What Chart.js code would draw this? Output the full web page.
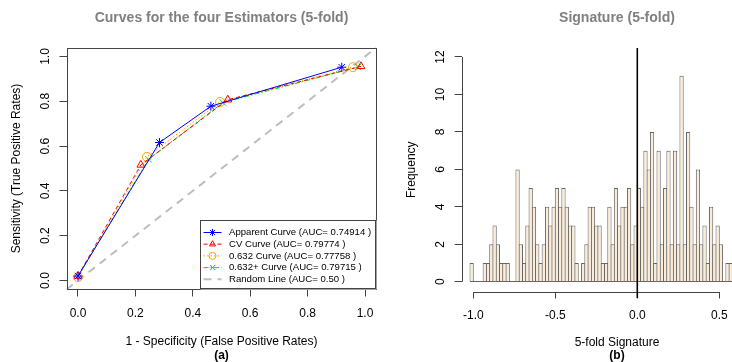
<!DOCTYPE html>
<html>
<head>
<meta charset="utf-8">
<script src="https://cdn.jsdelivr.net/npm/chart.js"></script>
<style>
  html, body { margin: 0; padding: 0; width: 732px; height: 362px; overflow: hidden; background: #fff; }
  #roc { position: absolute; left: 0; top: 0; }
  #hist { position: absolute; left: 390px; top: 0; }
</style>
</head>
<body>
<canvas id="roc" width="443" height="362"></canvas>
<canvas id="hist" width="454" height="362"></canvas>
<script>
// ROC - the four estimators (5-fold)
const fprApparent = [0, 0.284, 0.463, 0.919]
const tprApparent = [0.02, 0.616, 0.778, 0.952]
const fprCV = [0, 0.219, 0.522, 0.986]
const tprCV = [0.02, 0.516, 0.807, 0.956]
const fpr632 = [0, 0.24, 0.495, 0.958]
const tpr632 = [0.015, 0.552, 0.797, 0.952]
const fpr632plus = [0, 0.246, 0.505, 0.975]
const tpr632plus = [0.02, 0.541, 0.794, 0.953]
const randomLine = [-0.04, 1.04]
const curveNames = [
  'Apparent Curve (AUC= 0.74914 )',
  'CV Curve (AUC= 0.79774 )',
  '0.632 Curve (AUC= 0.77758 )',
  '0.632+ Curve (AUC= 0.79715 )',
  'Random Line (AUC= 0.50 )'
]
const rocTicks = [0, 0.2, 0.4, 0.6, 0.8, 1.0]
const rocTickLabels = ['0.0', '0.2', '0.4', '0.6', '0.8', '1.0']

// histogram of the signature (5-fold), bins of 0.02 starting at -1.02
const binStart = -1.02
const binWidth = 0.02
const freq = [1, 0, 0, 0, 1, 1, 2, 3, 2, 1, 1, 1, 0, 0, 6, 2, 1, 3, 5, 4,
              2, 1, 2, 4, 3, 4, 5, 4, 5, 4, 3, 3, 1, 0, 1, 2, 4, 4, 3, 3,
              1, 1, 4, 2, 5, 3, 4, 4, 5, 2, 3, 5, 4, 7, 6, 8, 1, 7, 2, 5,
              7, 2, 7, 2, 11, 2, 8, 4, 2, 6, 2, 3, 1, 4, 2, 3, 2, 0, 1, 1]
const histYTicks = [0, 2, 4, 6, 8, 10, 12]
const histYLabels = ['0', '2', '4', '6', '8', '10', '12']
const histXTicks = [-1.0, -0.5, 0.0, 0.5]
const histXLabels = ['-1.0', '-0.5', '0.0', '0.5']
const refLine = 0

Chart.defaults.font.family = '"Liberation Sans", Arial, sans-serif'
Chart.defaults.font.size = 12
Chart.defaults.color = '#000'

const axisGray = '#444'
const toPts = (xs, ys) => xs.map((v, i) => ({ x: v, y: ys[i] }))

// empty axis on the right, only keeps the right margin so titles stay centred
const spacer = w => ({
  type: 'linear', position: 'right', display: true,
  ticks: { display: false }, grid: { display: false }, border: { display: false },
  afterFit: s => { s.width = w }
})

// box round the plot + legend inside, bottom right
const rocExtras = {
  id: 'rocExtras',
  afterDraw(chart) {
    const { ctx, chartArea: a } = chart
    ctx.save()
    ctx.strokeStyle = axisGray
    ctx.lineWidth = 1
    ctx.strokeRect(Math.round(a.left) + 0.5, Math.round(a.top) + 0.5,
      Math.round(a.right - a.left) - 1, Math.round(a.bottom - a.top) - 1)

    const ds = chart.data.datasets
    ctx.font = '9.6px "Liberation Sans", Arial, sans-serif'
    const rowH = 11.7
    const w = Math.max(...ds.map(d => ctx.measureText(d.label).width)) + 34.5
    const h = 12.3 + rowH * (ds.length - 1) + 10.5
    const x0 = Math.round(a.right - w) + 0.5
    const y0 = Math.round(a.bottom - h) + 0.5
    ctx.fillStyle = '#fff'
    ctx.fillRect(x0, y0, a.right - x0, a.bottom - y0)
    ctx.strokeRect(x0, y0, a.right - x0 - 1, a.bottom - y0 - 1)
    ds.forEach((d, i) => {
      const y = y0 + 12 + i * rowH
      ctx.strokeStyle = d.borderColor
      ctx.lineWidth = d.borderWidth
      ctx.setLineDash(d.borderDash || [])
      ctx.beginPath()
      ctx.moveTo(x0 + 3, y)
      ctx.lineTo(x0 + 21, y)
      ctx.stroke()
      ctx.setLineDash([])
      if (d.pointRadius && Chart.helpers && Chart.helpers.drawPoint) {
        ctx.lineWidth = 1
        ctx.fillStyle = 'rgba(0,0,0,0)'
        Chart.helpers.drawPoint(ctx, { pointStyle: d.pointStyle, radius: 3.5, borderWidth: 1, rotation: 0 }, x0 + 12, y)
      }
      ctx.fillStyle = '#000'
      ctx.textBaseline = 'middle'
      ctx.textAlign = 'left'
      ctx.fillText(d.label, x0 + 28.5, y)
    })
    ctx.restore()
  }
}

const curveStyle = (color, dash, marker) => ({
  showLine: true,
  borderColor: color,
  backgroundColor: color,
  borderWidth: 1,
  borderDash: dash,
  tension: 0,
  pointStyle: marker,
  pointRadius: 4.5,
  pointBorderColor: color,
  pointBackgroundColor: 'rgba(0,0,0,0)',
  pointBorderWidth: 1
})

new Chart(document.getElementById('roc'), {
  type: 'scatter',
  data: {
    datasets: [
      { label: curveNames[0], data: toPts(fprApparent, tprApparent), ...curveStyle('#0000FF', [], 'star') },
      { label: curveNames[1], data: toPts(fprCV, tprCV), ...curveStyle('#FF0000', [4, 3], 'triangle') },
      { label: curveNames[2], data: toPts(fpr632, tpr632), ...curveStyle('#FFA500', [1.5, 2], 'circle') },
      { label: curveNames[3], data: toPts(fpr632plus, tpr632plus), ...curveStyle('#00DD00', [5, 2, 1.5, 2], 'crossRot') },
      { label: curveNames[4], data: toPts(randomLine, randomLine), showLine: true, borderColor: '#BEBEBE',
        backgroundColor: '#BEBEBE', borderWidth: 2, borderDash: [8, 6], pointRadius: 0 }
    ]
  },
  options: {
    responsive: false,
    animation: false,
    layout: { padding: 0 },
    plugins: {
      legend: { display: false },
      tooltip: { enabled: false },
      title: {
        display: true,
        text: 'Curves for the four Estimators (5-fold)',
        color: '#808080',
        font: { size: 14, weight: 'bold' },
        padding: { top: 10, bottom: 20.7 }
      },
      subtitle: {
        display: true,
        position: 'bottom',
        text: '(a)',
        font: { size: 12, weight: 'bold', lineHeight: 1 },
        padding: 0
      }
    },
    scales: {
      x: {
        type: 'linear', min: -0.04, max: 1.04,
        afterBuildTicks: s => { s.ticks = rocTicks.map(v => ({ value: v })) },
        afterFit: s => { s.height = 60.5 },
        ticks: { callback: (v, i) => rocTickLabels[i], padding: 10, autoSkip: false, maxRotation: 0 },
        grid: { display: true, drawOnChartArea: false, drawTicks: true, tickLength: 7, color: axisGray },
        border: { display: false },
        title: { display: true, text: '1 - Specificity (False Positive Rates)', padding: { top: 0, bottom: 1 } }
      },
      y: {
        type: 'linear', min: -0.04, max: 1.04,
        afterBuildTicks: s => { s.ticks = rocTicks.map(v => ({ value: v })) },
        afterFit: s => { s.width = 66.5 },
        ticks: { callback: (v, i) => rocTickLabels[i], padding: 5, autoSkip: false, minRotation: 90, maxRotation: 90, crossAlign: 'center' },
        grid: { display: true, drawOnChartArea: false, drawTicks: true, tickLength: 7, color: axisGray },
        border: { display: false },
        title: { display: true, text: 'Sensitivity (True Positive Rates)', padding: { top: 9, bottom: 0 } }
      },
      yRight: spacer(66.5)
    }
  },
  plugins: [rocExtras]
})

// y axis only from 0 to 12, x axis from -1 to 0.5, baseline and the line at 0
const histExtras = {
  id: 'histExtras',
  afterDraw(chart) {
    const { ctx, chartArea: a, scales: { x, y } } = chart
    ctx.save()
    ctx.strokeStyle = axisGray
    ctx.lineWidth = 1
    const ax = Math.round(a.left) + 0.5
    const ay = Math.round(a.bottom) + 0.5
    ctx.beginPath()
    ctx.moveTo(ax, y.getPixelForValue(histYTicks[0]))
    ctx.lineTo(ax, y.getPixelForValue(histYTicks[histYTicks.length - 1]))
    ctx.moveTo(x.getPixelForValue(histXTicks[0]), ay)
    ctx.lineTo(x.getPixelForValue(histXTicks[histXTicks.length - 1]), ay)
    ctx.stroke()
    // bottoms of the bins
    const by = Math.round(y.getPixelForValue(0)) - 0.5
    ctx.strokeStyle = '#666'
    ctx.beginPath()
    ctx.moveTo(x.getPixelForValue(binStart), by)
    ctx.lineTo(x.getPixelForValue(binStart + freq.length * binWidth), by)
    ctx.stroke()
    // vertical line at 0
    const zx = x.getPixelForValue(refLine)
    ctx.strokeStyle = '#000'
    ctx.lineWidth = 1.6
    ctx.beginPath()
    ctx.moveTo(zx, a.top)
    ctx.lineTo(zx, a.bottom + 6.5)
    ctx.stroke()
    ctx.restore()
  }
}

new Chart(document.getElementById('hist'), {
  type: 'bar',
  data: {
    datasets: [{
      label: 'Frequency',
      data: freq.map((c, i) => ({ x: binStart + (i + 0.5) * binWidth, y: c })),
      backgroundColor: '#FAECD8',
      borderColor: '#666',
      borderWidth: 1,
      barPercentage: 1.3,
      categoryPercentage: 1
    }]
  },
  options: {
    responsive: false,
    animation: false,
    layout: { padding: 0 },
    plugins: {
      legend: { display: false },
      tooltip: { enabled: false },
      title: {
        display: true,
        text: 'Signature (5-fold)',
        color: '#808080',
        font: { size: 14, weight: 'bold' },
        padding: { top: 10, bottom: 21.2 }
      },
      subtitle: {
        display: true,
        position: 'bottom',
        text: '(b)',
        font: { size: 12, weight: 'bold', lineHeight: 1 },
        padding: 0
      }
    },
    scales: {
      x: {
        type: 'linear', min: -1.0707, max: 0.8232, offset: false,
        afterBuildTicks: s => { s.ticks = histXTicks.map(v => ({ value: v })) },
        afterFit: s => { s.height = 58.5 },
        ticks: { callback: (v, i) => histXLabels[i], padding: 9.5, autoSkip: false, maxRotation: 0 },
        grid: { display: true, offset: false, drawOnChartArea: false, drawTicks: true, tickLength: 7, color: axisGray },
        border: { display: false },
        title: { display: true, text: '5-fold Signature', padding: { top: 0, bottom: 0 } }
      },
      y: {
        type: 'linear', min: -0.52, max: 12.48,
        afterBuildTicks: s => { s.ticks = histYTicks.map(v => ({ value: v })) },
        afterFit: s => { s.width = 71.7 },
        ticks: { callback: (v, i) => histYLabels[i], padding: 7, autoSkip: false, minRotation: 90, maxRotation: 90, crossAlign: 'center' },
        grid: { display: true, drawOnChartArea: false, drawTicks: true, tickLength: 7, color: axisGray },
        border: { display: false },
        title: { display: true, text: 'Frequency', padding: { top: 14, bottom: 0 } }
      },
      yRight: spacer(71.7)
    }
  },
  plugins: [histExtras]
})
</script>
</body>
</html>
